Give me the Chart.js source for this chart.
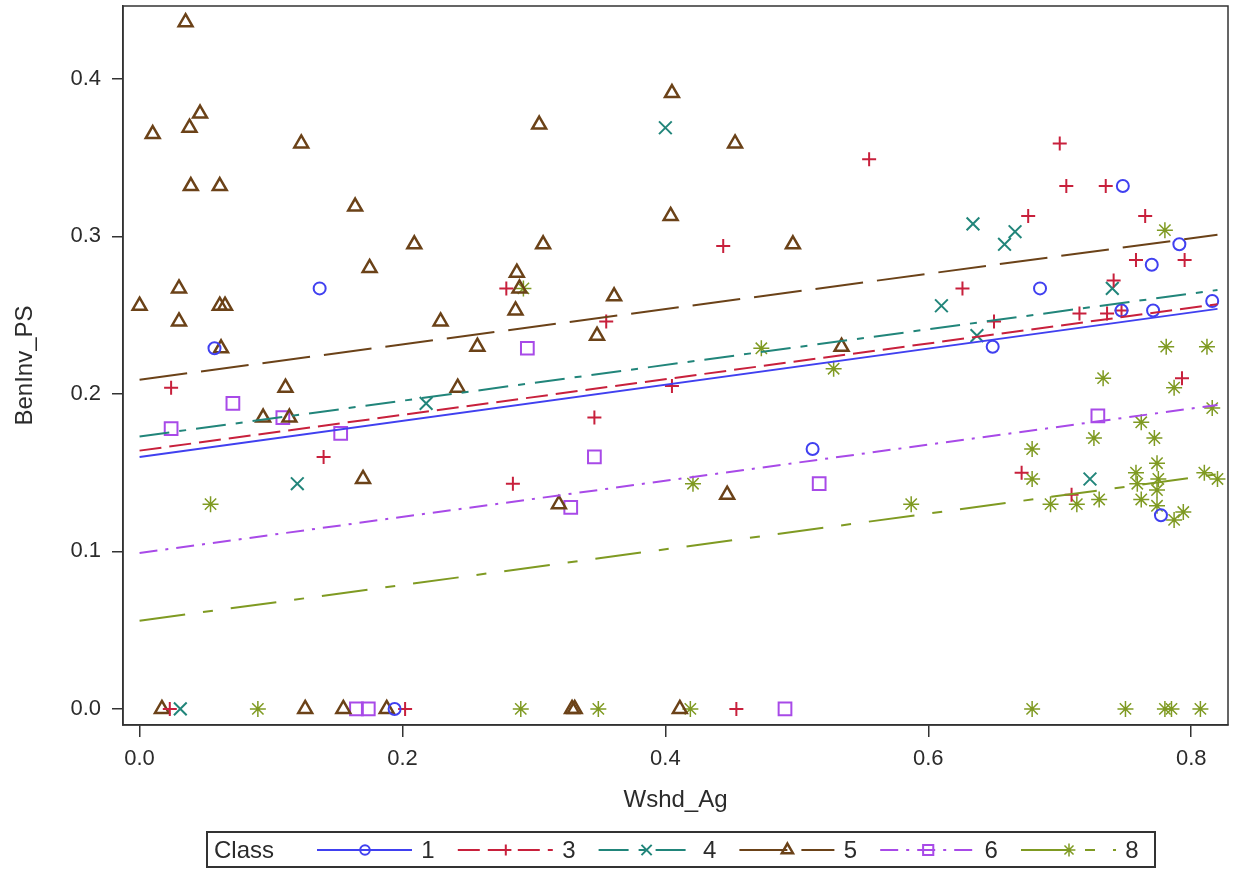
<!DOCTYPE html>
<html>
<head>
	<meta charset="utf-8">
	<title>BenInv_PS by Wshd_Ag</title>
	<script src="https://cdn.jsdelivr.net/npm/chart.js@4.4.1/dist/chart.umd.min.js"></script>
	<style>
		body { margin: 0; background: #fff; }
	</style>
</head>
<body>

	<canvas id="mychart" width="1235" height="871"></canvas>

	<script type="text/javascript">

		// points, [Wshd_Ag, BenInv_PS]
		const class1 = [[0.137,0.267],[0.057,0.229],[0.194,0.0],[0.512,0.165],[0.748,0.332],[0.791,0.295],[0.770,0.282],
			[0.685,0.267],[0.816,0.259],[0.747,0.253],[0.771,0.253],[0.649,0.230],[0.777,0.123]];
		const class3 = [[0.024,0.204],[0.140,0.160],[0.284,0.143],[0.023,0.0],[0.202,0.0],[0.279,0.267],[0.355,0.246],
			[0.444,0.294],[0.555,0.349],[0.405,0.205],[0.346,0.185],[0.454,0.0],[0.700,0.359],[0.705,0.332],[0.735,0.332],
			[0.676,0.313],[0.765,0.313],[0.626,0.267],[0.758,0.285],[0.795,0.285],[0.741,0.272],[0.650,0.246],[0.715,0.251],
			[0.736,0.251],[0.747,0.253],[0.793,0.210],[0.671,0.150],[0.709,0.136]];
		const class4 = [[0.031,0.0],[0.120,0.143],[0.218,0.194],[0.400,0.369],[0.634,0.308],[0.666,0.303],[0.658,0.295],
			[0.610,0.256],[0.637,0.237],[0.740,0.267],[0.723,0.146]];
		const class5 = [[0.035,0.436],[0.0,0.256],[0.010,0.365],[0.038,0.369],[0.046,0.378],[0.039,0.332],[0.061,0.332],
			[0.030,0.267],[0.030,0.246],[0.061,0.256],[0.065,0.256],[0.062,0.229],[0.123,0.359],[0.164,0.319],[0.175,0.280],
			[0.209,0.295],[0.094,0.185],[0.114,0.185],[0.111,0.204],[0.242,0.204],[0.170,0.146],[0.229,0.246],[0.257,0.230],
			[0.287,0.277],[0.289,0.267],[0.286,0.253],[0.405,0.391],[0.304,0.371],[0.453,0.359],[0.404,0.313],[0.307,0.295],
			[0.497,0.295],[0.361,0.262],[0.348,0.237],[0.534,0.230],[0.319,0.130],[0.447,0.136],
			[0.017,0.0],[0.126,0.0],[0.155,0.0],[0.188,0.0],[0.329,0.0],[0.331,0.0],[0.411,0.0]];
		const class6 = [[0.024,0.178],[0.071,0.194],[0.109,0.185],[0.153,0.175],[0.165,0.0],[0.174,0.0],[0.295,0.229],
			[0.346,0.160],[0.328,0.128],[0.517,0.143],[0.491,0.0],[0.729,0.186]];
		const class8 = [[0.054,0.130],[0.090,0.0],[0.292,0.267],[0.473,0.229],[0.528,0.216],[0.290,0.0],[0.349,0.0],
			[0.419,0.0],[0.421,0.143],[0.780,0.304],[0.781,0.230],[0.812,0.230],[0.733,0.210],[0.787,0.204],[0.816,0.191],
			[0.587,0.130],[0.679,0.165],[0.679,0.146],[0.762,0.182],[0.726,0.172],[0.772,0.172],[0.774,0.156],[0.758,0.150],
			[0.775,0.146],[0.759,0.143],[0.774,0.139],[0.693,0.130],[0.713,0.130],[0.730,0.133],[0.762,0.133],[0.774,0.129],
			[0.787,0.120],[0.794,0.125],[0.810,0.150],[0.820,0.146],
			[0.679,0.0],[0.750,0.0],[0.780,0.0],[0.785,0.0],[0.807,0.0]];

		// regression lines: value at x = fitX[0] and x = fitX[1]
		const fitX = [0.0, 0.82];
		const fitStart = [0.160, 0.164, 0.173, 0.209, 0.099, 0.056];
		const fitEnd = [0.254, 0.257, 0.266, 0.301, 0.193, 0.149];

		const classNames = ['1', '3', '4', '5', '6', '8'];
		const classPoints = [class1, class3, class4, class5, class6, class8];
		const xTicks = [0, 0.2, 0.4, 0.6, 0.8];

		const colors = ['#4040f0', '#c8203c', '#21857a', '#6b4218', '#a84ae8', '#7f9a22'];
		const markers = ['circle', 'cross', 'crossRot', 'triangle', 'rect', 'star'];
		const radii = [6, 7, 9, 8, 9, 8];
		const widths = [2, 2, 2, 2.5, 2, 1.5];
		const dashes = [[], [22, 8], [30, 10, 7, 10], [48, 14], [18, 8, 3, 8], [46, 18, 10, 18]];

		const FONT = '"Liberation Sans", Arial, sans-serif';
		const INK = '#2b2b2b';

		const datasets = [];
		classPoints.forEach((pts, i) => {
			datasets.push({
				label: 'fit ' + classNames[i],
				data: [{x: fitX[0], y: fitStart[i]}, {x: fitX[1], y: fitEnd[i]}],
				showLine: true,
				borderColor: colors[i],
				borderWidth: 2,
				borderDash: dashes[i],
				pointRadius: 0,
				fill: false
			});
		});
		classPoints.forEach((pts, i) => {
			datasets.push({
				label: classNames[i],
				data: pts.map(p => ({x: p[0], y: p[1]})),
				pointStyle: markers[i],
				pointRadius: radii[i],
				pointBorderWidth: widths[i],
				pointBorderColor: colors[i],
				pointBackgroundColor: 'rgba(0,0,0,0)',
				showLine: false
			});
		});

		const frame = {
			id: 'frame',
			afterDatasetsDraw(chart) {
				const a = chart.chartArea, ctx = chart.ctx;
				ctx.save();
				ctx.strokeStyle = '#333';
				ctx.lineWidth = 1.5;
				ctx.strokeRect(a.left, a.top, a.right - a.left, a.bottom - a.top);
				ctx.restore();
			}
		};

		const classLegend = {
			id: 'classLegend',
			afterDraw(chart) {
				const ctx = chart.ctx;
				const cy = 850;
				ctx.save();
				ctx.strokeStyle = '#333';
				ctx.lineWidth = 2;
				ctx.strokeRect(207, 832, 948, 35);
				ctx.font = '24px ' + FONT;
				ctx.fillStyle = INK;
				ctx.textBaseline = 'middle';
				ctx.textAlign = 'left';
				ctx.fillText('Class', 214, cy + 1);
				classNames.forEach((name, i) => {
					const sx = 317 + i * 140.8;
					ctx.strokeStyle = colors[i];
					ctx.lineWidth = 2;
					ctx.setLineDash(dashes[i]);
					ctx.beginPath();
					ctx.moveTo(sx, cy);
					ctx.lineTo(sx + 95, cy);
					ctx.stroke();
					ctx.setLineDash([]);
					ctx.fillStyle = 'rgba(0,0,0,0)';
					ctx.lineWidth = widths[i];
					Chart.helpers.drawPoint(ctx, {
						pointStyle: markers[i], radius: radii[i] * 0.8, rotation: 0, borderWidth: widths[i]
					}, sx + 48, cy);
					ctx.fillStyle = INK;
					ctx.textAlign = 'center';
					ctx.fillText(name, sx + 111, cy + 1);
				});
				ctx.restore();
			}
		};

		const ctx = document.getElementById('mychart').getContext('2d');
		const myChart = new Chart(ctx, {
			type: 'scatter',
			data: { datasets: datasets },
			plugins: [frame, classLegend],
			options: {
				responsive: false,
				animation: false,
				layout: { autoPadding: false, padding: { top: 6, right: 7, bottom: 51, left: 0 } },
				plugins: { legend: { display: false }, tooltip: { enabled: false } },
				scales: {
					x: {
						type: 'linear',
						min: -0.0126,
						max: 0.828,
						afterFit: s => { s.height = 95; s.paddingLeft = 0; s.paddingRight = 0; },
						afterBuildTicks: s => { s.ticks = xTicks.map(v => ({value: v})); },
						ticks: {
							callback: v => Number(v).toFixed(1),
							font: { family: FONT, size: 22 },
							color: INK,
							padding: 9,
							maxRotation: 0
						},
						grid: { drawOnChartArea: false, tickLength: 12, color: '#333', lineWidth: 1.5 },
						border: { color: '#333', width: 1.5 },
						title: {
							display: true,
							text: 'Wshd_Ag',
							font: { family: FONT, size: 24 },
							color: INK,
							padding: { top: 0, bottom: 5 }
						}
					},
					y: {
						type: 'linear',
						min: -0.0102,
						max: 0.4463,
						afterFit: s => { s.width = 123; s.paddingTop = 0; s.paddingBottom = 0; },
						ticks: {
							stepSize: 0.1,
							includeBounds: false,
							callback: v => Number(v).toFixed(1),
							font: { family: FONT, size: 22 },
							color: INK,
							padding: 11
						},
						grid: { drawOnChartArea: false, tickLength: 11, color: '#333', lineWidth: 1.5 },
						border: { color: '#333', width: 1.5 },
						title: {
							display: true,
							text: 'BenInv_PS',
							font: { family: FONT, size: 24 },
							color: INK,
							padding: { top: 11, bottom: 0 }
						}
					}
				}
			}
		});

	</script>

</body>
</html>
